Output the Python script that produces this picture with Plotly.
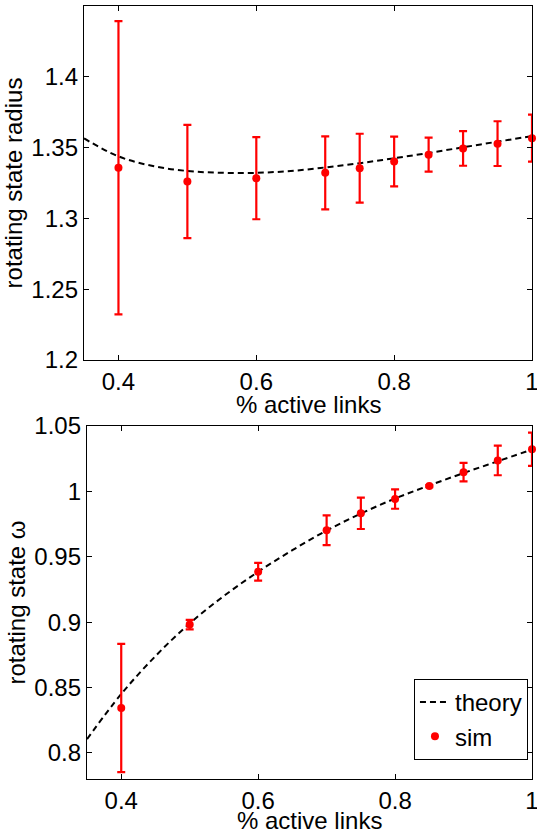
import plotly.graph_objects as go

# ---- data ----
x_sim = [0.4, 0.5, 0.6, 0.7, 0.75, 0.8, 0.85, 0.9, 0.95, 1.0]

radius_sim = [1.3358, 1.3261, 1.3284, 1.3322, 1.3355, 1.3402, 1.3450, 1.3494, 1.3528, 1.3567]
radius_err = [0.1035, 0.0400, 0.0290, 0.0258, 0.0243, 0.0176, 0.0120, 0.0122, 0.0158, 0.0166]

omega_sim = [0.8343, 0.8981, 0.9385, 0.9702, 0.9832, 0.9941, 1.0040, 1.0147, 1.0236, 1.0322]
omega_err = [0.0490, 0.0036, 0.0068, 0.0114, 0.0120, 0.0074, 0.0008, 0.0070, 0.0113, 0.0127]

x_theory = [0.35, 0.40, 0.45, 0.50, 0.55, 0.60, 0.65, 0.70, 0.75, 0.80, 0.85, 0.90, 0.95, 1.00]
radius_theory = [1.3565, 1.3438, 1.3370, 1.3335, 1.3322, 1.3322, 1.3335, 1.3360, 1.3390,
                 1.3425, 1.3462, 1.3502, 1.3542, 1.3582]
omega_theory = [0.8105, 0.8450, 0.8740, 0.8990, 0.9200, 0.9385, 0.9550, 0.9700, 0.9830,
                0.9945, 1.0045, 1.0140, 1.0230, 1.0320]

x_ticks = [0.4, 0.6, 0.8, 1.0]
x_ticktext = ["0.4", "0.6", "0.8", "1"]
r_ticks = [1.2, 1.25, 1.3, 1.35, 1.4]
r_ticktext = ["1.2", "1.25", "1.3", "1.35", "1.4"]
w_ticks = [0.8, 0.85, 0.9, 0.95, 1.0, 1.05]
w_ticktext = ["0.8", "0.85", "0.9", "0.95", "1", "1.05"]
x_title = "% active links"

FONT = "Liberation Sans, Arial, Helvetica, sans-serif"
FS = 24
RED = "#ff0000"

fig = go.Figure()

# top panel
fig.add_trace(go.Scatter(x=x_theory, y=radius_theory, mode="lines", line=dict(color="black", width=2, dash="6px,4px", shape="spline"),
                         name="theory", showlegend=False, xaxis="x", yaxis="y"))
fig.add_trace(go.Scatter(x=x_sim, y=radius_sim, mode="markers", marker=dict(color=RED, size=8),
                         error_y=dict(type="data", array=radius_err, color=RED, thickness=2.2, width=4),
                         name="sim", showlegend=False, cliponaxis=False, xaxis="x", yaxis="y"))

# bottom panel
fig.add_trace(go.Scatter(x=x_theory, y=omega_theory, mode="lines", line=dict(color="black", width=2, dash="6px,4px", shape="spline"),
                         name="theory", showlegend=True, xaxis="x2", yaxis="y2"))
fig.add_trace(go.Scatter(x=x_sim, y=omega_sim, mode="markers", marker=dict(color=RED, size=8),
                         error_y=dict(type="data", array=omega_err, color=RED, thickness=2.2, width=4),
                         name="sim", showlegend=True, cliponaxis=False, xaxis="x2", yaxis="y2"))

axis_common = dict(showline=True, linecolor="black", linewidth=1.3, mirror="ticks", ticks="inside",
                   ticklen=5, tickcolor="black", tickwidth=1, showgrid=False, zeroline=False,
                   ticklabeloverflow="allow", automargin=False,
                   tickfont=dict(family=FONT, size=FS, color="black"))

XR = [0.35, 1.0]

fig.update_layout(
    width=537, height=832,
    margin=dict(l=84, r=5, t=6, b=53, autoexpand=False),
    paper_bgcolor="white", plot_bgcolor="white",
    font=dict(family=FONT, size=FS, color="black"),
    xaxis=dict(domain=[0, 1], range=XR, tickvals=x_ticks, ticktext=x_ticktext, anchor="y", **axis_common),
    yaxis=dict(domain=[0.542, 1], range=[1.2, 1.45], tickvals=r_ticks, ticktext=r_ticktext, anchor="x",
               title=dict(text="rotating state radius", font=dict(family=FONT, size=FS), standoff=2), **axis_common),
    xaxis2=dict(domain=[3 / 448, 1], range=XR, tickvals=x_ticks, ticktext=x_ticktext, anchor="y2", **axis_common),
    yaxis2=dict(domain=[0, 0.4567], range=[0.78, 1.05], tickvals=w_ticks, ticktext=w_ticktext, anchor="x2",
                title=dict(text="rotating state ω", font=dict(family=FONT, size=FS), standoff=1), **axis_common),
    legend=dict(x=0.991, y=0.0246, xanchor="right", yanchor="bottom", bordercolor="black", borderwidth=1,
                bgcolor="white", font=dict(family=FONT, size=FS), tracegroupgap=0, itemwidth=30),
    showlegend=True,
    annotations=[
        dict(text=x_title, xref="paper", yref="paper", x=0.5, y=(779 - 404) / 773, xanchor="center",
             yanchor="middle", showarrow=False, font=dict(family=FONT, size=FS)),
        dict(text=x_title, xref="paper", yref="paper", x=(3 / 448 + 1) / 2, y=(779 - 820) / 773, xanchor="center",
             yanchor="middle", showarrow=False, font=dict(family=FONT, size=FS)),
    ],
)

fig.write_html("out.html")
